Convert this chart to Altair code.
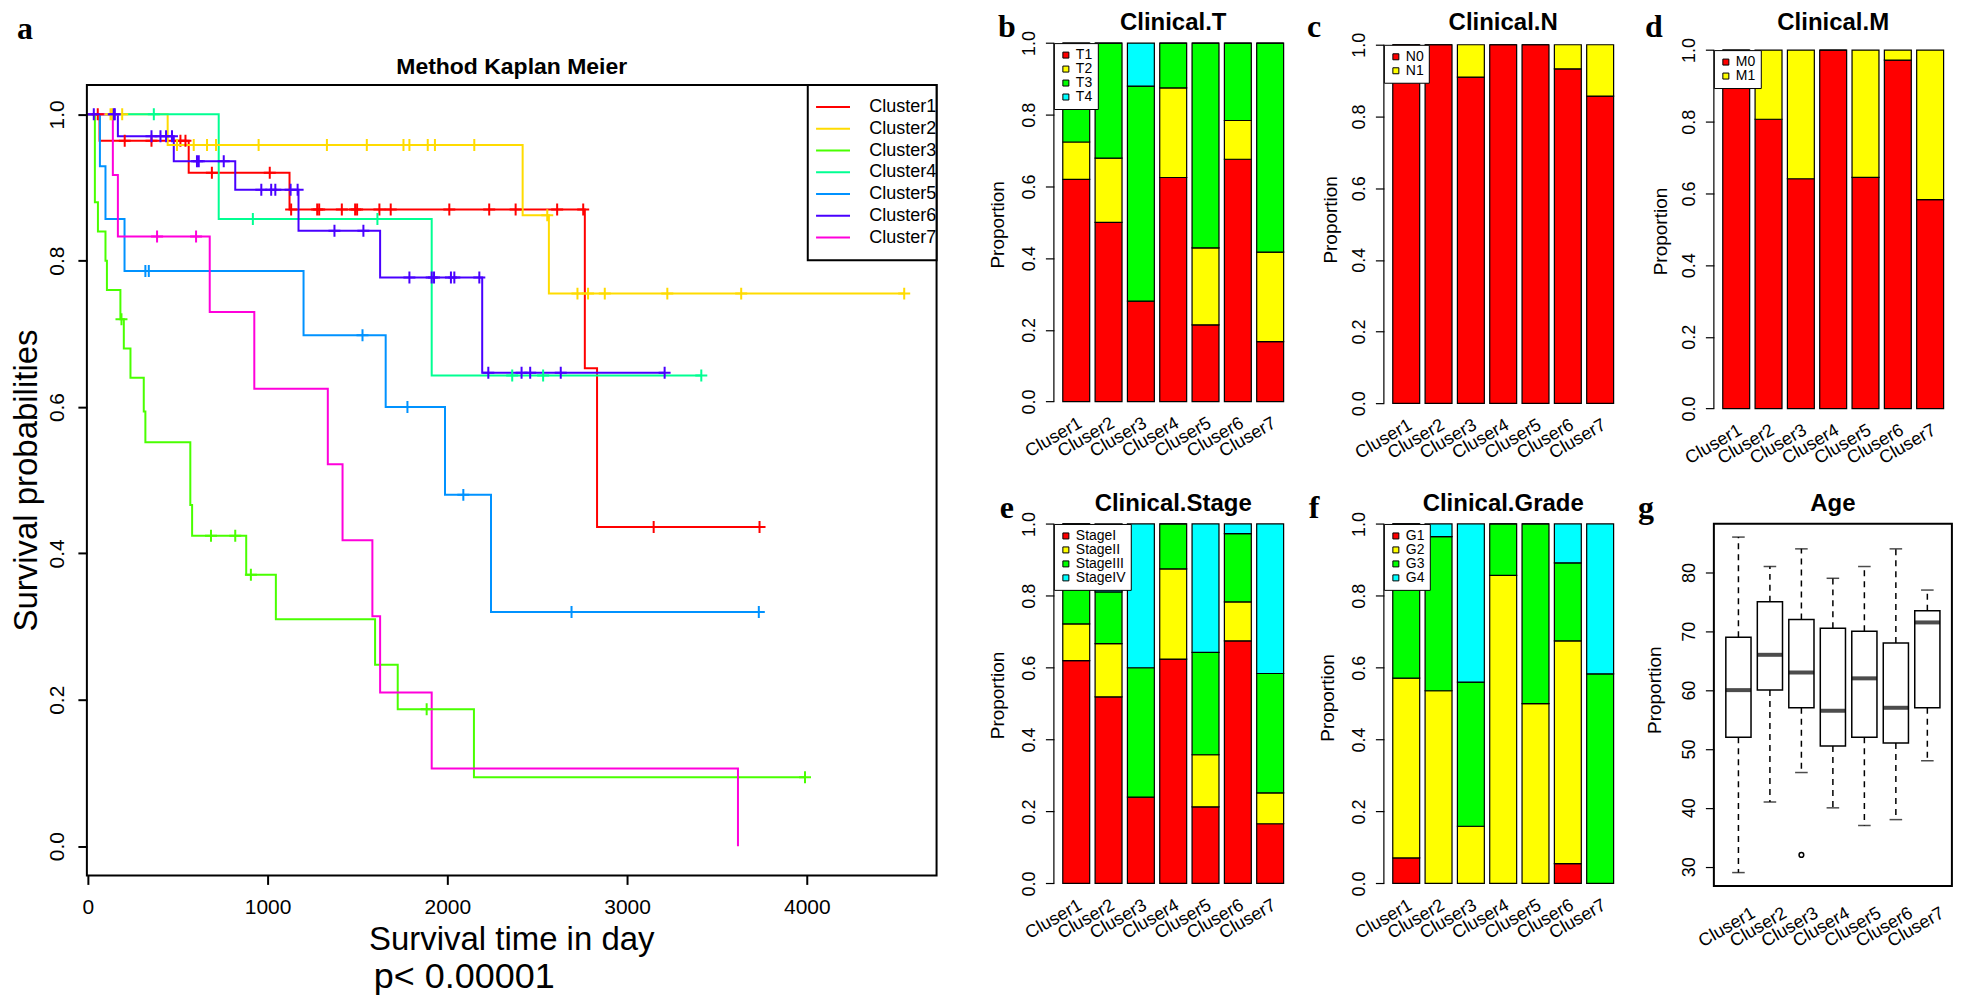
import altair as alt
import pandas as pd

FONT = "Liberation Sans"
SERIF = "Liberation Serif"

CLUSTERS = ["Cluster1", "Cluster2", "Cluster3", "Cluster4", "Cluster5", "Cluster6", "Cluster7"]
KM_COLORS = ["#FF0000", "#FFDB00", "#49FF00", "#00FF92", "#0092FF", "#4900FF", "#FF00DB"]
BAR_LABELS = ["Cluser1", "Cluser2", "Cluser3", "Cluser4", "Cluser5", "Cluser6", "Cluser7"]

# ---- Kaplan-Meier: event times (days), survival after each event, censor times ----
c1_times = [65, 561, 1122, 2765, 2833]
c1_surv = [0.964, 0.920, 0.870, 0.653, 0.436]
c1_cens = [55, 205, 354, 515, 543, 690, 1012, 1131, 1276, 1287, 1413, 1487, 1498, 1622, 1685,
           2011, 2233, 2380, 2611, 2756, 3148, 3737]
c2_times = [444, 2419, 2565]
c2_surv = [0.958, 0.862, 0.755]
c2_cens = [126, 135, 191, 496, 589, 663, 713, 950, 1330, 1552, 1756, 1789, 1891, 1931, 2150,
           2556, 2724, 2783, 2876, 3224, 3635, 4542]
c3_times = [39, 56, 98, 106, 181, 200, 237, 311, 320, 570, 580, 881, 1046, 1598, 1724, 2148]
c3_surv = [0.88, 0.84, 0.80, 0.76, 0.72, 0.68, 0.64, 0.594, 0.552, 0.466, 0.424, 0.371, 0.310,
           0.248, 0.187, 0.094]
c3_cens = [187, 685, 820, 907, 1885, 3990]
c4_times = [728, 1913]
c4_surv = [0.857, 0.643]
c4_cens = [367, 918, 1611, 2361, 2533, 3413]
c5_times = [67, 98, 204, 1200, 1657, 1987, 2243]
c5_surv = [0.929, 0.857, 0.786, 0.698, 0.600, 0.480, 0.320]
c5_cens = [320, 339, 1528, 1778, 2089, 2691, 3733]
c6_times = [167, 478, 820, 1172, 1626, 2194]
c6_surv = [0.970, 0.936, 0.897, 0.841, 0.777, 0.647]
c6_cens = [33, 144, 150, 354, 404, 435, 468, 607, 617, 756, 965, 1020, 1043, 1128, 1167, 1372,
           1533, 1789, 1913, 1926, 2020, 2039, 2178, 2228, 2413, 2461, 2631, 3209]
c7_times = [139, 167, 678, 926, 1335, 1417, 1583, 1626, 1913, 3617]
c7_surv = [0.917, 0.833, 0.730, 0.625, 0.522, 0.418, 0.314, 0.210, 0.106, 0.0]
c7_cens = [385, 602]

KM_EVENTS = [(c1_times, c1_surv, c1_cens), (c2_times, c2_surv, c2_cens), (c3_times, c3_surv, c3_cens),
             (c4_times, c4_surv, c4_cens), (c5_times, c5_surv, c5_cens), (c6_times, c6_surv, c6_cens),
             (c7_times, c7_surv, c7_cens)]

# ---- Clinical proportions (stacked, per cluster 1..7) ----
T_CATS = ["T1", "T2", "T3", "T4"]
T_VALS = [[0.620, 0.500, 0.280, 0.625, 0.214, 0.676, 0.167],
          [0.104, 0.179, 0.000, 0.250, 0.215, 0.108, 0.250],
          [0.276, 0.321, 0.600, 0.125, 0.571, 0.216, 0.583],
          [0.000, 0.000, 0.120, 0.000, 0.000, 0.000, 0.000]]
N_CATS = ["N0", "N1"]
N_VALS = [[1.000, 1.000, 0.910, 1.000, 1.000, 0.933, 0.857],
          [0.000, 0.000, 0.090, 0.000, 0.000, 0.067, 0.143]]
M_CATS = ["M0", "M1"]
M_VALS = [[1.000, 0.807, 0.641, 1.000, 0.645, 0.972, 0.583],
          [0.000, 0.193, 0.359, 0.000, 0.355, 0.028, 0.417]]
S_CATS = ["StageI", "StageII", "StageIII", "StageIV"]
S_VALS = [[0.620, 0.519, 0.240, 0.624, 0.213, 0.675, 0.166],
          [0.102, 0.148, 0.000, 0.251, 0.145, 0.108, 0.086],
          [0.278, 0.144, 0.360, 0.125, 0.285, 0.190, 0.332],
          [0.000, 0.189, 0.400, 0.000, 0.357, 0.027, 0.416]]
G_CATS = ["G1", "G2", "G3", "G4"]
G_VALS = [[0.071, 0.000, 0.000, 0.000, 0.000, 0.055, 0.000],
          [0.500, 0.536, 0.159, 0.857, 0.500, 0.620, 0.000],
          [0.429, 0.429, 0.401, 0.143, 0.500, 0.217, 0.583],
          [0.000, 0.035, 0.440, 0.000, 0.000, 0.108, 0.417]]
COLORS4 = ["#FF0000", "#FFFF00", "#00FF00", "#00FFFF"]

# ---- Age boxplot ----
AGE_LOW = [29, 41, 46, 40, 37, 38, 48]
AGE_Q1 = [52, 60, 57, 50.5, 52, 51, 57]
AGE_MED = [60, 66, 63, 56.5, 62, 57, 71.5]
AGE_Q3 = [69, 75, 72, 70.5, 70, 68, 73.5]
AGE_HIGH = [86, 81, 84, 79, 81, 84, 77]
AGE_OUT_CLUSTER = ["Cluser3"]
AGE_OUT_VALUE = [32]

one = pd.DataFrame({"k": [0]})
LETTER_SIZE = 32


def text_layer(txt, x, y, size, bold=False, font=FONT, align="center", baseline="alphabetic"):
    kw = dict(text=txt, fontSize=size, font=font, align=align, baseline=baseline, color="black")
    if bold:
        kw["fontWeight"] = "bold"
    return alt.Chart(one).mark_text(**kw).encode(x=alt.value(x), y=alt.value(y))


def rect_layer(x0, x1, y0, y1, sw, filled):
    kw = dict(stroke="black", strokeWidth=sw, fill="white")
    if not filled:
        kw["fillOpacity"] = 0
    return alt.Chart(one).mark_rect(**kw).encode(
        x=alt.value(x0), x2=alt.value(x1), y=alt.value(y0), y2=alt.value(y1))


# ================= Panel a: Kaplan-Meier =================
def surv_at(times, surv, t):
    s = 1.0
    for tt, ss in zip(times, surv):
        if tt <= t:
            s = ss
    return s


line_rows, cens_rows = [], []
for cl, (times, surv, cens) in zip(CLUSTERS, KM_EVENTS):
    line_rows.append({"cluster": cl, "time": 0, "surv": 1.0, "ord": 0})
    for k, (t, s) in enumerate(zip(times, surv)):
        line_rows.append({"cluster": cl, "time": t, "surv": s, "ord": k + 1})
    if cens and max(cens) > max(times):
        line_rows.append({"cluster": cl, "time": max(cens), "surv": surv[-1], "ord": len(times) + 1})
    for t in cens:
        cens_rows.append({"cluster": cl, "time": t, "surv": surv_at(times, surv, t)})
km_lines = pd.DataFrame(line_rows)
km_cens = pd.DataFrame(cens_rows)

FRAME_W, FRAME_B = 851, 848          # plot frame (px, relative to view origin)
KM_VIEW_W, ROW0_H = 876.5, 394.8      # grid cell size used for layout
km_x = alt.X("time:Q", scale=alt.Scale(domain=[-5.5, 4722], range=[0, FRAME_W], nice=False, zero=False),
             axis=alt.Axis(values=[0, 1000, 2000, 3000, 4000], format="d", title=None, grid=False,
                           domain=False, tickSize=9, tickWidth=2, tickColor="black", labelFontSize=21,
                           labelFont=FONT, labelColor="black", labelPadding=12, labelFlush=False,
                           offset=FRAME_B - ROW0_H))
km_y = alt.Y("surv:Q", scale=alt.Scale(domain=[-0.04, 1.04], range=[FRAME_B, 56.4], nice=False, zero=False),
             axis=alt.Axis(values=[0, 0.2, 0.4, 0.6, 0.8, 1.0], format=".1f", grid=False, domain=False,
                           tickSize=9, tickWidth=2, tickColor="black", labelFontSize=21, labelFont=FONT,
                           labelColor="black", labelAngle=-90, labelAlign="center", labelBaseline="middle",
                           labelPadding=20, labelFlush=False,
                           title="Survival probabilities", titleFontSize=33, titleFont=FONT,
                           titleFontWeight="normal", titleColor="black", titleAngle=-90, titleX=-60,
                           titleY=452, titleAlign="center", titleBaseline="middle"))
km_legend = alt.Legend(orient="none", legendX=738.3, legendY=69.4, title=None, padding=0,
                       symbolType="M-3,0L3,0", symbolSize=128.4, symbolStrokeWidth=2,
                       labelFontSize=18, labelFont=FONT, labelColor="black", labelOffset=27.4,
                       rowPadding=3.8)
km_color = alt.Color("cluster:N", scale=alt.Scale(domain=CLUSTERS, range=KM_COLORS), legend=km_legend)

km_line = alt.Chart(km_lines).mark_line(interpolate="step-after", strokeWidth=2).encode(
    x=km_x, y=km_y, color=km_color, order=alt.Order("ord:Q"))
km_pts = alt.Chart(km_cens).mark_point(shape="M-1,0L1,0M0,-1L0,1", size=144, strokeWidth=2,
                                        filled=False, opacity=1).encode(x="time:Q", y="surv:Q", color=km_color)

km = alt.layer(
    km_line, km_pts,
    rect_layer(0, FRAME_W, 56.4, FRAME_B, 2, False),
    rect_layer(722, FRAME_W, 56.4, 231.8, 2, True),
    text_layer("Method Kaplan Meier", 425.5, 45.1, 23, bold=True),
    text_layer("Survival time in day", 425.5, 913, 33, baseline="middle"),
    text_layer("p< 0.00001", 378, 950, 36, baseline="middle"),
    text_layer("a", -62, 10.4, LETTER_SIZE, bold=True, font=SERIF),
).properties(width=KM_VIEW_W, height=ROW0_H)


# ================= Stacked bar panels =================
def bar_panel(title, letter, cats, values, g):
    rows = []
    for ci, cat in enumerate(cats):
        for k, lab in enumerate(BAR_LABELS):
            rows.append({"cluster": lab, "cat": cat, "idx": ci, "value": values[ci][k]})
    df = pd.DataFrame(rows)
    W, H = 239, g["h"]
    x = alt.X("cluster:N", sort=BAR_LABELS,
              scale=alt.Scale(type="band", domain=BAR_LABELS, paddingInner=0.1667, paddingOuter=0.275),
              axis=alt.Axis(title=None, labelAngle=-30, labelAlign="right", labelBaseline="top",
                            labelFontSize=18, labelFont=FONT, labelColor="black", ticks=False, tickSize=0,
                            domain=False, labelPadding=-2, labelOverlap=False))
    y = alt.Y("value:Q", stack="zero",
              scale=alt.Scale(domain=[-0.04, 1.04], range=g["range"], nice=False, zero=False),
              axis=alt.Axis(values=[0, 0.2, 0.4, 0.6, 0.8, 1.0], format=".1f", grid=False, domain=False,
                            tickSize=8.5, tickWidth=1.2, tickColor="black", labelFontSize=18,
                            labelFont=FONT, labelColor="black", labelAngle=-90, labelAlign="center",
                            labelBaseline="middle", labelPadding=15.5, labelFlush=False,
                            title="Proportion", titleFontSize=19, titleFont=FONT, titleFontWeight="normal",
                            titleColor="black", titleAngle=-90, titleX=g["tx"], titleY=g["ty"],
                            titleAlign="center", titleBaseline="middle"))
    leg = alt.Legend(orient="none", legendX=0, legendY=g["ly"], title=None, padding=5,
                     fillColor="white", strokeColor="black",
                     symbolType="square", symbolSize=36, symbolStrokeColor="black", symbolStrokeWidth=1,
                     labelFontSize=14, labelFont=FONT, labelColor="black", labelOffset=3,
                     rowPadding=-3)
    color = alt.Color("cat:N", scale=alt.Scale(domain=cats, range=COLORS4[:len(cats)]), legend=leg)
    bars = alt.Chart(df).mark_bar(stroke="black", strokeWidth=1.2, opacity=1).encode(
        x=x, y=y, color=color, order=alt.Order("idx:Q", sort="ascending"))
    axis_rule = alt.Chart(one).mark_rule(color="black", strokeWidth=1.2).encode(
        x=alt.value(0), y=alt.datum(0), y2=alt.datum(1))
    return alt.layer(
        bars, axis_rule,
        text_layer(title, W / 2, g["tyy"], 24, bold=True),
        text_layer(letter, g["lxx"], 8.1, LETTER_SIZE, bold=True, font=SERIF),
    ).properties(width=W, height=H)


pb = bar_panel("Clinical.T", "b", T_CATS, T_VALS,
               dict(h=387.8, range=[387.8, 0], tx=-56, ty=195.9, ly=14.4, tyy=1.1, lxx=-47))
pc = bar_panel("Clinical.N", "c", N_CATS, N_VALS,
               dict(h=389.5, range=[389.5, 1.7], tx=-53, ty=190.9, ly=16.1, tyy=1.1, lxx=-70))
pd_ = bar_panel("Clinical.M", "d", M_CATS, M_VALS,
                dict(h=394.8, range=[394.8, 7.0], tx=-53.4, ty=202.6, ly=21.4, tyy=1.1, lxx=-60))
pe = bar_panel("Clinical.Stage", "e", S_CATS, S_VALS,
               dict(h=388.8, range=[388.8, 0], tx=-56, ty=185.7, ly=14.4, tyy=1.4, lxx=-47))
pf = bar_panel("Clinical.Grade", "f", G_CATS, G_VALS,
               dict(h=388.8, range=[388.8, 0], tx=-56, ty=188.2, ly=14.4, tyy=1.4, lxx=-70))

# ================= Panel g: Age boxplot =================
age = pd.DataFrame({"cluster": BAR_LABELS, "low": AGE_LOW, "q1": AGE_Q1, "med": AGE_MED,
                    "q3": AGE_Q3, "high": AGE_HIGH})
age_out = pd.DataFrame({"cluster": AGE_OUT_CLUSTER, "v": AGE_OUT_VALUE})
GW, GH = 238.4, 377
gx = alt.X("cluster:N", sort=BAR_LABELS,
           scale=alt.Scale(type="band", domain=BAR_LABELS, paddingInner=0.2, paddingOuter=0.38),
           axis=alt.Axis(title=None, labelAngle=-30, labelAlign="right", labelBaseline="top",
                         labelFontSize=18, labelFont=FONT, labelColor="black", ticks=False, tickSize=0,
                         domain=False, labelPadding=18, labelOffset=11, labelOverlap=False))
gscale = alt.Scale(domain=[26.72, 88.28], range=[GH, 14.1], nice=False, zero=False)
gy = alt.Y("q1:Q", scale=gscale,
           axis=alt.Axis(values=[30, 40, 50, 60, 70, 80], format="d", grid=False, domain=False,
                         tickSize=8.5, tickWidth=1.2, tickColor="black", labelFontSize=18, labelFont=FONT,
                         labelColor="black", labelAngle=-90, labelAlign="center", labelBaseline="middle",
                         labelPadding=15.5, labelFlush=False,
                         title="Proportion", titleFontSize=19, titleFont=FONT, titleFontWeight="normal",
                         titleColor="black", titleAngle=-90, titleX=-59.3, titleY=180.4,
                         titleAlign="center", titleBaseline="middle"))
base = alt.Chart(age)
wl = base.mark_rule(color="black", strokeWidth=1.5, strokeDash=[6, 5]).encode(x=gx, y=gy, y2="low:Q")
wh = base.mark_rule(color="black", strokeWidth=1.5, strokeDash=[6, 5]).encode(
    x=gx, y=alt.Y("q3:Q", scale=gscale), y2="high:Q")
cap_l = base.mark_tick(color="black", size=12.6, thickness=1.5).encode(x=gx, y=alt.Y("low:Q", scale=gscale))
cap_h = base.mark_tick(color="black", size=12.6, thickness=1.5).encode(x=gx, y=alt.Y("high:Q", scale=gscale))
boxes = base.mark_bar(fill="white", stroke="black", strokeWidth=1.5).encode(x=gx, y=gy, y2="q3:Q")
med = base.mark_tick(color="black", size=25.2, thickness=4).encode(x=gx, y=alt.Y("med:Q", scale=gscale))
outl = alt.Chart(age_out).mark_point(shape="circle", size=22, filled=False, color="black",
                                      strokeWidth=1.5, opacity=1).encode(x=gx, y=alt.Y("v:Q", scale=gscale))
pg = alt.layer(
    wl, wh, cap_l, cap_h, boxes, med, outl,
    rect_layer(0, GW, 14.1, GH, 2, False),
    text_layer("Age", GW / 2, 1.4, 24, bold=True),
    text_layer("g", -68, 8.1, LETTER_SIZE, bold=True, font=SERIF),
).properties(width=GW, height=GH)

spacer = alt.Chart(one).mark_point(opacity=0).encode(
    x=alt.value(0), y=alt.value(0)).properties(width=10, height=10)

chart = alt.concat(km, pb, pc, pd_, spacer, pe, pf, pg, columns=4, align="each", bounds="flush",
                   spacing=alt.RowColnumber(row=86.6, column=91.5))
chart = chart.resolve_scale(color="independent").resolve_legend(color="independent")
chart = chart.properties(padding={"left": 3, "top": 2, "right": 0, "bottom": 0},
                         background="white").configure_view(stroke=None)

chart.save("out.html", embed_options={"renderer": "svg", "actions": False})
